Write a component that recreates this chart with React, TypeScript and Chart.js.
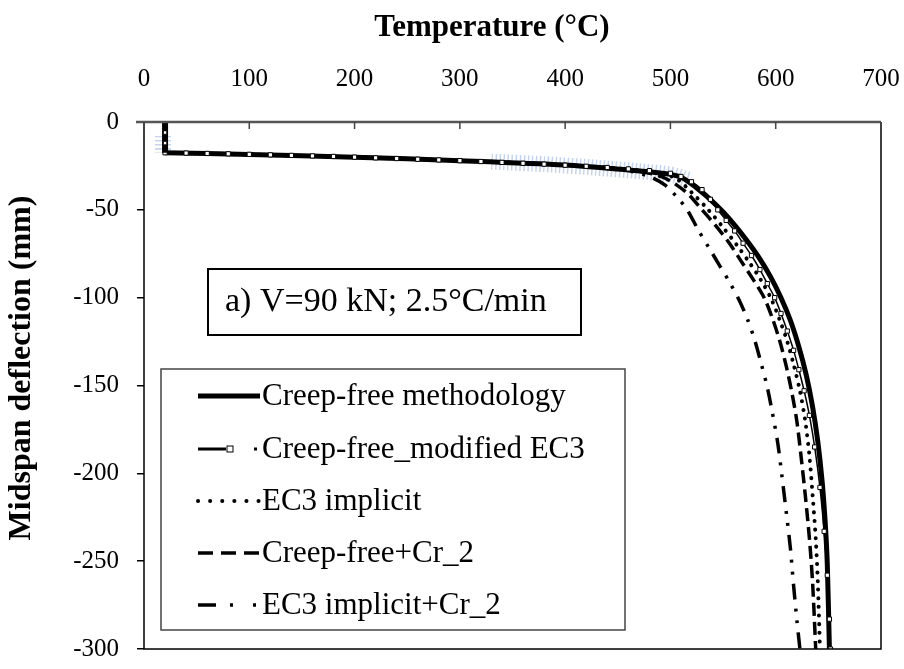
import React, { useEffect, useRef } from "react";
import { Chart, registerables } from "chart.js";

Chart.register(...registerables);

const FONT = "'Liberation Serif', 'Times New Roman', serif";

const xTickValues = [0, 100, 200, 300, 400, 500, 600, 700];
const yTickValues = [0, -50, -100, -150, -200, -250, -300];

const xTitle = "Temperature (°C)";
const yTitle = "Midspan deflection (mm)";

const seriesNames = [
  "Creep-free methodology",
  "Creep-free_modified EC3",
  "EC3 implicit",
  "Creep-free+Cr_2",
  "EC3 implicit+Cr_2",
];

const annotationText = "a) V=90 kN; 2.5°C/min";

// initial vertical step at 20 °C (shared by all series)
const startT = [20, 20, 20, 20];
const startD = [0, -6, -12, -17.5];

// Creep-free methodology
const solidT = [20, 100, 200, 300, 400, 460, 490, 510, 530, 548, 560, 572, 584, 595, 605, 614, 622, 629, 635, 640, 644, 647, 649, 651];
const solidD = [-17.5, -18.5, -20, -22, -24.5, -27.3, -29, -31.5, -40, -50, -58, -67, -77, -88, -100, -113, -128, -144, -162, -182, -204, -228, -252, -300];

// Creep-free_modified EC3 (with square markers)
const modT = [20, 40, 60, 80, 100, 120, 140, 160, 180, 200, 220, 240, 260, 280, 300, 320, 340, 360, 380, 400, 420, 440, 460, 480, 500, 510, 520, 530, 538, 545, 553, 561, 569, 577, 585, 592, 599, 605, 611, 617, 622, 627, 632, 637, 642, 646, 649, 651, 652];
const modD = [-17.5, -17.7, -17.9, -18.1, -18.4, -18.7, -19.0, -19.3, -19.6, -20.0, -20.4, -20.8, -21.2, -21.6, -22.0, -22.5, -23.0, -23.5, -24.0, -24.6, -25.2, -25.9, -26.7, -27.7, -29.2, -31, -34, -38.5, -44, -50, -56, -62, -69, -76, -84, -92, -100, -109, -119, -130, -141, -153, -167, -185, -208, -233, -258, -283, -300];

// EC3 implicit
const dotT = [20, 100, 200, 300, 400, 460, 485, 505, 520, 536, 550, 563, 575, 586, 596, 604, 611, 617, 623, 628, 632, 635, 638, 640, 642];
const dotD = [-17.5, -18.5, -20, -22, -24.5, -27, -28.7, -32, -40, -50, -60, -70, -80, -90, -101, -113, -125, -138, -153, -170, -190, -212, -237, -262, -300];

// Creep-free+Cr_2
const dashT = [20, 100, 200, 300, 400, 450, 475, 495, 515, 530, 543, 556, 568, 579, 589, 597, 604, 610, 615, 620, 624, 628, 632, 635, 638];
const dashD = [-17.5, -18.5, -20, -22, -24.5, -26.5, -28.5, -32, -40, -50, -59, -69, -80, -90, -100, -112, -125, -139, -153, -170, -190, -212, -237, -262, -300];

// EC3 implicit+Cr_2
const ddT = [20, 100, 200, 300, 400, 440, 462, 480, 495, 508, 516, 526, 537, 547, 556, 565, 573, 580, 586, 592, 597, 602, 606, 610, 614, 617, 620, 623];
const ddD = [-17.5, -18.5, -20, -22, -24.5, -26, -28, -31, -36, -44, -50, -61, -72, -82, -91, -101, -112, -124, -137, -151, -166, -183, -202, -222, -243, -264, -283, -300];

// light-blue hatched band seen behind the curves (corner and knee)
const bandT = [18, 18, NaN, 330, 380, 430, 470, 500, 518];
const bandD = [-8, -17.5, NaN, -22.6, -24, -26, -28, -29.8, -33];

const toXY = (t: number[], d: number[]) => t.map((v, i) => ({ x: v, y: d[i] }));

type Style = { width: number; dash: number[]; legendDash: number[]; cap: CanvasLineCap; marker?: boolean };
const styles: Style[] = [
  { width: 5, dash: [], legendDash: [], cap: "butt" },
  { width: 2.5, dash: [26, 8, 2, 6], legendDash: [28, 28, 3, 20], cap: "butt", marker: true },
  { width: 4, dash: [0.1, 8.5], legendDash: [0.1, 12], cap: "round" },
  { width: 3.5, dash: [13, 6], legendDash: [15, 8], cap: "butt" },
  { width: 3.5, dash: [16, 9, 3, 9, 3, 9], legendDash: [18, 14, 3, 20, 3, 20], cap: "butt" },
];

const overlayPlugin = {
  id: "overlay",
  afterDraw(chart: any) {
    const { ctx, chartArea: a, scales } = chart;
    const xs = scales.x;
    ctx.save();
    // plot frame
    ctx.strokeStyle = "#000";
    ctx.lineWidth = 1.5;
    ctx.beginPath();
    ctx.moveTo(a.left, a.top);
    ctx.lineTo(a.left, a.bottom);
    ctx.lineTo(a.right, a.bottom);
    ctx.lineTo(a.right, a.top);
    ctx.stroke();
    ctx.strokeStyle = "#555";
    ctx.lineWidth = 2.5;
    ctx.beginPath();
    ctx.moveTo(a.left - 8, a.top);
    ctx.lineTo(a.right, a.top);
    ctx.stroke();
    // inward ticks on top axis
    ctx.lineWidth = 1.5;
    ctx.strokeStyle = "#444";
    ctx.beginPath();
    for (const v of xTickValues) {
      const px = xs.getPixelForValue(v);
      ctx.moveTo(px, a.top);
      ctx.lineTo(px, a.top + 7);
    }
    ctx.stroke();

    // axis titles
    ctx.fillStyle = "#000";
    ctx.textAlign = "center";
    ctx.textBaseline = "middle";
    ctx.font = `bold 31px ${FONT}`;
    ctx.fillText(xTitle, 492, 28);
    ctx.save();
    ctx.translate(22, 368);
    ctx.rotate(-Math.PI / 2);
    ctx.font = `bold 32px ${FONT}`;
    ctx.fillText(yTitle, 0, 0);
    ctx.restore();

    // annotation box
    ctx.strokeStyle = "#000";
    ctx.lineWidth = 2;
    ctx.strokeRect(208, 269, 373, 66);
    ctx.fillStyle = "#000";
    ctx.font = `34px ${FONT}`;
    ctx.textAlign = "left";
    ctx.textBaseline = "middle";
    ctx.fillText(annotationText, 225, 302);

    // legend box
    ctx.fillStyle = "#fff";
    ctx.fillRect(161, 369, 464, 261);
    ctx.strokeStyle = "#444";
    ctx.lineWidth = 1.5;
    ctx.strokeRect(161, 369, 464, 261);
    const rows = [396, 449, 501, 553, 605];
    seriesNames.forEach((name, i) => {
      const s = styles[i];
      const y = rows[i];
      ctx.strokeStyle = "#000";
      ctx.lineWidth = s.marker ? 3 : s.width;
      ctx.lineCap = s.cap;
      ctx.setLineDash(s.legendDash);
      ctx.beginPath();
      ctx.moveTo(198, y);
      ctx.lineTo(260, y);
      ctx.stroke();
      ctx.setLineDash([]);
      ctx.lineCap = "butt";
      if (s.marker) {
        ctx.fillStyle = "#fff";
        ctx.lineWidth = 1;
        ctx.fillRect(227, y - 3, 6, 6);
        ctx.strokeRect(227, y - 3, 6, 6);
      }
      ctx.fillStyle = "#000";
      ctx.font = `31px ${FONT}`;
      ctx.textAlign = "left";
      ctx.textBaseline = "middle";
      ctx.fillText(name, 262, y + 1);
    });
    ctx.restore();
  },
};

export default function App() {
  const ref = useRef<HTMLCanvasElement | null>(null);
  useEffect(() => {
    document.body.style.margin = "0";
    const canvas = ref.current!;
    const datasets: any[] = [
      {
        label: "start",
        data: toXY(startT, startD),
        borderColor: "#000",
        borderWidth: 6,
        pointStyle: "rect",
        pointRadius: [0, 2.5, 2.5, 0],
        pointBackgroundColor: "#fff",
        pointBorderColor: "#000",
        pointBorderWidth: 1,
        tension: 0,
      },
      {
        label: seriesNames[1],
        data: toXY(modT, modD),
        borderColor: "#000",
        borderWidth: 1.5,
        pointStyle: "rect",
        pointRadius: 3,
        pointBackgroundColor: "#fff",
        pointBorderColor: "#000",
        pointBorderWidth: 1,
        tension: 0.3,
      },
      {
        label: seriesNames[0],
        data: toXY(solidT, solidD),
        borderColor: "#000",
        borderWidth: styles[0].width,
        pointRadius: 0,
        tension: 0.3,
      },
      {
        label: seriesNames[2],
        data: toXY(dotT, dotD),
        borderColor: "#000",
        borderWidth: styles[2].width,
        borderDash: styles[2].dash,
        borderCapStyle: "round",
        pointRadius: 0,
        tension: 0.3,
      },
      {
        label: seriesNames[3],
        data: toXY(dashT, dashD),
        borderColor: "#000",
        borderWidth: styles[3].width,
        borderDash: styles[3].dash,
        pointRadius: 0,
        tension: 0.3,
      },
      {
        label: seriesNames[4],
        data: toXY(ddT, ddD),
        borderColor: "#000",
        borderWidth: styles[4].width,
        borderDash: styles[4].dash,
        pointRadius: 0,
        tension: 0.3,
      },
      {
        label: "band",
        data: toXY(bandT, bandD),
        borderColor: "rgba(150,175,225,0.55)",
        borderWidth: 16,
        borderDash: [1.5, 2.5],
        pointRadius: 0,
        spanGaps: false,
        tension: 0.2,
      },
    ];
    const chart = new Chart(canvas, {
      type: "scatter",
      data: { datasets },
      options: {
        responsive: false,
        animation: false,
        devicePixelRatio: 1,
        showLine: true,
        layout: { padding: { left: 0, top: 0, right: 23, bottom: 20 } },
        plugins: { legend: { display: false }, tooltip: { enabled: false } },
        scales: {
          x: {
            type: "linear",
            position: "top",
            min: 0,
            max: 700,
            afterBuildTicks: (s: any) => { s.ticks = xTickValues.map((v) => ({ value: v })); },
            afterFit: (s: any) => { s.height = 122; s.paddingLeft = 0; s.paddingRight = 0; },
            ticks: { color: "#000", font: { family: FONT, size: 25 }, padding: 20 },
            grid: { display: false },
            border: { display: false },
            title: { display: false },
          },
          y: {
            type: "linear",
            min: -300,
            max: 0,
            afterBuildTicks: (s: any) => { s.ticks = yTickValues.map((v) => ({ value: v })); },
            afterFit: (s: any) => { s.width = 144; s.paddingTop = 0; s.paddingBottom = 0; },
            ticks: { color: "#000", font: { family: FONT, size: 25 }, padding: 18 },
            grid: { display: true, drawOnChartArea: false, drawTicks: true, tickLength: 7, color: "#000", lineWidth: 1.5 },
            border: { display: false },
            title: { display: false },
          },
        },
      },
      plugins: [overlayPlugin],
    } as any);
    return () => chart.destroy();
  }, []);
  return (
    <div style={{ position: "absolute", left: 0, top: 0, width: 904, height: 669 }}>
      <canvas ref={ref} width={904} height={669} style={{ width: 904, height: 669, display: "block" }} />
    </div>
  );
}
